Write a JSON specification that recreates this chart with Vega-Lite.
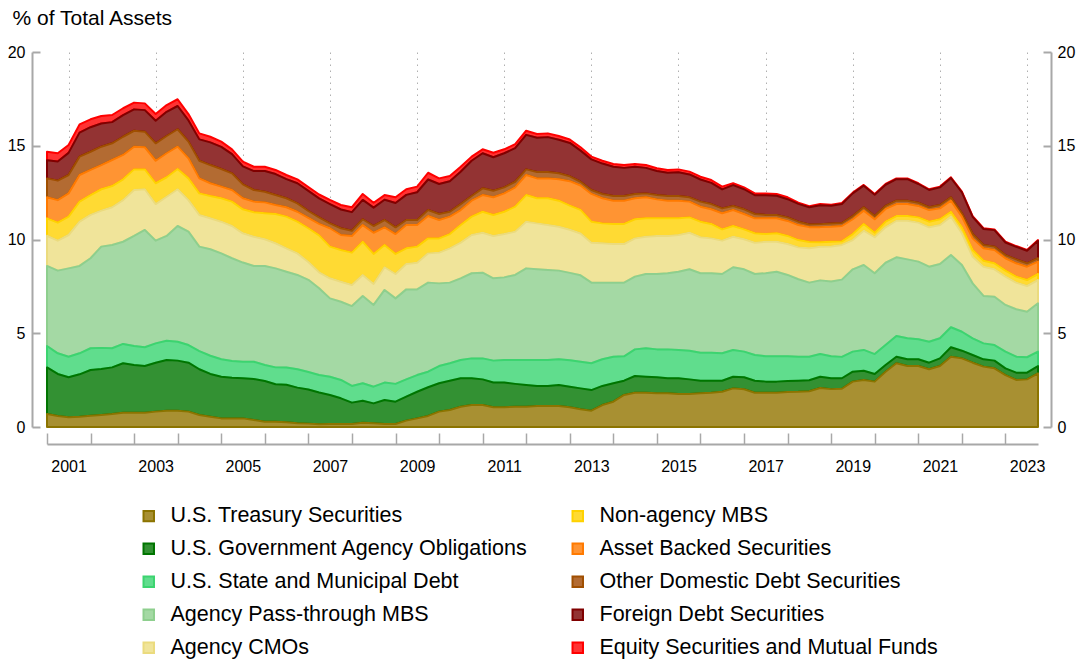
{
  "$schema": "https://vega.github.io/schema/vega-lite/v6.json",
  "width": 991,
  "height": 375,
  "autosize": {"type": "none"},
  "padding": {"left": 47, "top": 52, "right": 46, "bottom": 235},
  "background": "white",
  "config": {
    "font": "Liberation Sans",
    "view": {"stroke": null},
    "axis": {"labelFont": "Liberation Sans", "titleFont": "Liberation Sans", "labelColor": "#000000", "titleColor": "#000000"},
    "legend": {"labelFont": "Liberation Sans"}
  },
  "datasets": {
    "series": [
      {"k": "ust", "name": "U.S. Treasury Securities", "o": 1},
      {"k": "agy", "name": "U.S. Government Agency Obligations", "o": 2},
      {"k": "muni", "name": "U.S. State and Municipal Debt", "o": 3},
      {"k": "pt", "name": "Agency Pass-through MBS", "o": 4},
      {"k": "cmo", "name": "Agency CMOs", "o": 5},
      {"k": "nag", "name": "Non-agency MBS", "o": 6},
      {"k": "abs", "name": "Asset Backed Securities", "o": 7},
      {"k": "oth", "name": "Other Domestic Debt Securities", "o": 8},
      {"k": "frn", "name": "Foreign Debt Securities", "o": 9},
      {"k": "eq", "name": "Equity Securities and Mutual Funds", "o": 10}
    ],
    "q": [
      {"d":"2001-01-01","ust":0.69,"agy":2.49,"muni":1.14,"pt":4.27,"cmo":1.61,"nag":0.93,"abs":1.12,"oth":1.01,"frn":0.97,"eq":0.45},
      {"d":"2001-04-01","ust":0.59,"agy":2.24,"muni":1.10,"pt":4.41,"cmo":1.60,"nag":0.96,"abs":1.20,"oth":1.04,"frn":1.02,"eq":0.44},
      {"d":"2001-07-01","ust":0.52,"agy":2.13,"muni":1.10,"pt":4.71,"cmo":1.78,"nag":0.98,"abs":1.24,"oth":0.98,"frn":1.18,"eq":0.42},
      {"d":"2001-10-01","ust":0.55,"agy":2.26,"muni":1.12,"pt":4.66,"cmo":2.36,"nag":1.07,"abs":1.42,"oth":0.98,"frn":1.28,"eq":0.44},
      {"d":"2002-01-01","ust":0.60,"agy":2.44,"muni":1.16,"pt":4.80,"cmo":2.31,"nag":1.06,"abs":1.34,"oth":0.97,"frn":1.31,"eq":0.42},
      {"d":"2002-04-01","ust":0.64,"agy":2.45,"muni":1.13,"pt":5.40,"cmo":1.92,"nag":1.14,"abs":1.29,"oth":0.98,"frn":1.24,"eq":0.40},
      {"d":"2002-07-01","ust":0.69,"agy":2.49,"muni":1.02,"pt":5.51,"cmo":2.01,"nag":1.13,"abs":1.39,"oth":0.89,"frn":1.13,"eq":0.38},
      {"d":"2002-10-01","ust":0.76,"agy":2.64,"muni":1.03,"pt":5.45,"cmo":2.22,"nag":1.11,"abs":1.30,"oth":0.97,"frn":1.15,"eq":0.37},
      {"d":"2003-01-01","ust":0.76,"agy":2.55,"muni":1.01,"pt":5.87,"cmo":2.45,"nag":1.10,"abs":1.21,"oth":0.85,"frn":1.14,"eq":0.36},
      {"d":"2003-04-01","ust":0.76,"agy":2.49,"muni":1.00,"pt":6.26,"cmo":2.17,"nag":1.06,"abs":1.18,"oth":0.83,"frn":1.15,"eq":0.36},
      {"d":"2003-07-01","ust":0.82,"agy":2.61,"muni":1.03,"pt":5.48,"cmo":1.95,"nag":1.11,"abs":1.20,"oth":0.93,"frn":1.20,"eq":0.36},
      {"d":"2003-10-01","ust":0.87,"agy":2.70,"muni":1.03,"pt":5.59,"cmo":2.09,"nag":1.04,"abs":1.28,"oth":0.92,"frn":1.29,"eq":0.36},
      {"d":"2004-01-01","ust":0.87,"agy":2.67,"muni":1.01,"pt":6.17,"cmo":1.96,"nag":1.08,"abs":1.19,"oth":0.93,"frn":1.24,"eq":0.36},
      {"d":"2004-04-01","ust":0.82,"agy":2.61,"muni":0.94,"pt":6.05,"cmo":1.68,"nag":1.16,"abs":1.07,"oth":0.89,"frn":1.13,"eq":0.34},
      {"d":"2004-07-01","ust":0.64,"agy":2.44,"muni":0.97,"pt":5.57,"cmo":1.69,"nag":1.15,"abs":0.80,"oth":0.94,"frn":1.14,"eq":0.32},
      {"d":"2004-10-01","ust":0.55,"agy":2.28,"muni":0.97,"pt":5.68,"cmo":1.65,"nag":1.19,"abs":0.68,"oth":0.97,"frn":1.21,"eq":0.30},
      {"d":"2005-01-01","ust":0.46,"agy":2.22,"muni":0.93,"pt":5.65,"cmo":1.69,"nag":1.25,"abs":0.62,"oth":0.94,"frn":1.18,"eq":0.28},
      {"d":"2005-04-01","ust":0.46,"agy":2.17,"muni":0.89,"pt":5.48,"cmo":1.72,"nag":1.30,"abs":0.62,"oth":0.89,"frn":1.02,"eq":0.26},
      {"d":"2005-07-01","ust":0.46,"agy":2.14,"muni":0.88,"pt":5.29,"cmo":1.56,"nag":1.28,"abs":0.59,"oth":0.74,"frn":0.96,"eq":0.25},
      {"d":"2005-10-01","ust":0.37,"agy":2.19,"muni":0.92,"pt":5.11,"cmo":1.56,"nag":1.30,"abs":0.57,"oth":0.62,"frn":1.01,"eq":0.23},
      {"d":"2006-01-01","ust":0.28,"agy":2.17,"muni":0.86,"pt":5.28,"cmo":1.42,"nag":1.39,"abs":0.58,"oth":0.57,"frn":1.10,"eq":0.23},
      {"d":"2006-04-01","ust":0.28,"agy":2.00,"muni":0.90,"pt":5.28,"cmo":1.34,"nag":1.56,"abs":0.48,"oth":0.53,"frn":1.12,"eq":0.22},
      {"d":"2006-07-01","ust":0.25,"agy":2.00,"muni":0.92,"pt":5.11,"cmo":1.25,"nag":1.69,"abs":0.50,"oth":0.48,"frn":1.02,"eq":0.22},
      {"d":"2006-10-01","ust":0.20,"agy":1.90,"muni":0.98,"pt":5.03,"cmo":1.15,"nag":1.69,"abs":0.53,"oth":0.45,"frn":1.07,"eq":0.21},
      {"d":"2007-01-01","ust":0.18,"agy":1.82,"muni":0.93,"pt":4.92,"cmo":0.95,"nag":1.80,"abs":0.55,"oth":0.37,"frn":1.07,"eq":0.21},
      {"d":"2007-04-01","ust":0.15,"agy":1.69,"muni":0.93,"pt":4.63,"cmo":0.85,"nag":1.97,"abs":0.61,"oth":0.35,"frn":1.01,"eq":0.21},
      {"d":"2007-07-01","ust":0.16,"agy":1.55,"muni":0.97,"pt":4.18,"cmo":1.07,"nag":1.69,"abs":0.98,"oth":0.26,"frn":1.03,"eq":0.22},
      {"d":"2007-10-01","ust":0.16,"agy":1.37,"muni":0.98,"pt":4.17,"cmo":1.07,"nag":1.69,"abs":0.80,"oth":0.36,"frn":1.00,"eq":0.24},
      {"d":"2008-01-01","ust":0.16,"agy":1.14,"muni":0.89,"pt":4.26,"cmo":1.12,"nag":1.73,"abs":0.89,"oth":0.28,"frn":0.99,"eq":0.26},
      {"d":"2008-04-01","ust":0.23,"agy":1.17,"muni":0.93,"pt":4.66,"cmo":1.12,"nag":1.77,"abs":0.89,"oth":0.31,"frn":1.03,"eq":0.32},
      {"d":"2008-07-01","ust":0.20,"agy":1.06,"muni":0.89,"pt":4.36,"cmo":1.12,"nag":1.60,"abs":1.13,"oth":0.36,"frn":0.98,"eq":0.26},
      {"d":"2008-10-01","ust":0.16,"agy":1.28,"muni":0.93,"pt":4.94,"cmo":1.21,"nag":1.19,"abs":0.94,"oth":0.39,"frn":1.08,"eq":0.25},
      {"d":"2009-01-01","ust":0.16,"agy":1.19,"muni":0.95,"pt":4.56,"cmo":1.30,"nag":1.07,"abs":1.06,"oth":0.36,"frn":1.30,"eq":0.30},
      {"d":"2009-04-01","ust":0.34,"agy":1.28,"muni":0.92,"pt":4.80,"cmo":1.35,"nag":0.84,"abs":1.24,"oth":0.27,"frn":1.34,"eq":0.30},
      {"d":"2009-07-01","ust":0.46,"agy":1.42,"muni":0.89,"pt":4.57,"cmo":1.42,"nag":0.86,"abs":1.15,"oth":0.27,"frn":1.48,"eq":0.30},
      {"d":"2009-10-01","ust":0.59,"agy":1.53,"muni":0.83,"pt":4.75,"cmo":1.56,"nag":0.80,"abs":1.19,"oth":0.32,"frn":1.63,"eq":0.36},
      {"d":"2010-01-01","ust":0.82,"agy":1.51,"muni":0.92,"pt":4.41,"cmo":1.64,"nag":0.76,"abs":0.98,"oth":0.32,"frn":1.60,"eq":0.30},
      {"d":"2010-04-01","ust":0.91,"agy":1.56,"muni":0.93,"pt":4.30,"cmo":1.83,"nag":0.76,"abs":0.93,"oth":0.26,"frn":1.63,"eq":0.28},
      {"d":"2010-07-01","ust":1.08,"agy":1.52,"muni":0.97,"pt":4.36,"cmo":1.90,"nag":0.94,"abs":0.80,"oth":0.32,"frn":1.72,"eq":0.27},
      {"d":"2010-10-01","ust":1.17,"agy":1.43,"muni":1.06,"pt":4.54,"cmo":2.04,"nag":0.98,"abs":0.85,"oth":0.25,"frn":1.88,"eq":0.22},
      {"d":"2011-01-01","ust":1.17,"agy":1.37,"muni":1.12,"pt":4.57,"cmo":2.13,"nag":1.12,"abs":0.89,"oth":0.36,"frn":1.87,"eq":0.21},
      {"d":"2011-04-01","ust":1.05,"agy":1.32,"muni":1.17,"pt":4.39,"cmo":2.26,"nag":1.12,"abs":0.94,"oth":0.35,"frn":1.79,"eq":0.24},
      {"d":"2011-07-01","ust":1.05,"agy":1.32,"muni":1.20,"pt":4.41,"cmo":2.31,"nag":1.19,"abs":0.98,"oth":0.32,"frn":1.82,"eq":0.21},
      {"d":"2011-10-01","ust":1.08,"agy":1.22,"muni":1.27,"pt":4.54,"cmo":2.31,"nag":1.33,"abs":1.03,"oth":0.30,"frn":1.79,"eq":0.22},
      {"d":"2012-01-01","ust":1.08,"agy":1.16,"muni":1.33,"pt":4.89,"cmo":2.49,"nag":1.42,"abs":1.07,"oth":0.30,"frn":1.84,"eq":0.22},
      {"d":"2012-04-01","ust":1.12,"agy":1.07,"muni":1.38,"pt":4.84,"cmo":2.45,"nag":1.34,"abs":1.06,"oth":0.34,"frn":1.83,"eq":0.20},
      {"d":"2012-07-01","ust":1.12,"agy":1.07,"muni":1.38,"pt":4.80,"cmo":2.40,"nag":1.43,"abs":1.06,"oth":0.34,"frn":1.86,"eq":0.20},
      {"d":"2012-10-01","ust":1.12,"agy":1.12,"muni":1.37,"pt":4.73,"cmo":2.34,"nag":1.39,"abs":1.14,"oth":0.32,"frn":1.79,"eq":0.20},
      {"d":"2013-01-01","ust":1.05,"agy":1.10,"muni":1.41,"pt":4.66,"cmo":2.30,"nag":1.29,"abs":1.30,"oth":0.26,"frn":1.78,"eq":0.18},
      {"d":"2013-04-01","ust":0.95,"agy":1.11,"muni":1.42,"pt":4.61,"cmo":2.23,"nag":1.26,"abs":1.30,"oth":0.20,"frn":1.66,"eq":0.18},
      {"d":"2013-07-01","ust":0.87,"agy":1.10,"muni":1.43,"pt":4.30,"cmo":2.13,"nag":1.12,"abs":1.48,"oth":0.21,"frn":1.63,"eq":0.15},
      {"d":"2013-10-01","ust":1.17,"agy":1.02,"muni":1.42,"pt":4.09,"cmo":2.10,"nag":1.06,"abs":1.34,"oth":0.23,"frn":1.62,"eq":0.15},
      {"d":"2014-01-01","ust":1.35,"agy":0.98,"muni":1.42,"pt":3.95,"cmo":2.06,"nag":1.07,"abs":1.24,"oth":0.25,"frn":1.56,"eq":0.15},
      {"d":"2014-04-01","ust":1.71,"agy":0.76,"muni":1.30,"pt":3.93,"cmo":2.06,"nag":1.07,"abs":1.24,"oth":0.25,"frn":1.50,"eq":0.15},
      {"d":"2014-07-01","ust":1.83,"agy":0.89,"muni":1.42,"pt":3.88,"cmo":2.04,"nag":1.02,"abs":1.12,"oth":0.23,"frn":1.45,"eq":0.15},
      {"d":"2014-10-01","ust":1.83,"agy":0.85,"muni":1.52,"pt":3.96,"cmo":1.99,"nag":0.98,"abs":1.12,"oth":0.21,"frn":1.36,"eq":0.15},
      {"d":"2015-01-01","ust":1.80,"agy":0.85,"muni":1.49,"pt":4.02,"cmo":2.03,"nag":0.94,"abs":1.01,"oth":0.23,"frn":1.28,"eq":0.15},
      {"d":"2015-04-01","ust":1.80,"agy":0.80,"muni":1.54,"pt":4.06,"cmo":1.99,"nag":0.94,"abs":0.94,"oth":0.25,"frn":1.24,"eq":0.15},
      {"d":"2015-07-01","ust":1.76,"agy":0.84,"muni":1.51,"pt":4.17,"cmo":1.96,"nag":0.89,"abs":0.94,"oth":0.25,"frn":1.27,"eq":0.15},
      {"d":"2015-10-01","ust":1.76,"agy":0.78,"muni":1.53,"pt":4.34,"cmo":1.95,"nag":0.82,"abs":0.84,"oth":0.23,"frn":1.22,"eq":0.15},
      {"d":"2016-01-01","ust":1.80,"agy":0.67,"muni":1.49,"pt":4.24,"cmo":1.92,"nag":0.83,"abs":0.80,"oth":0.27,"frn":1.18,"eq":0.15},
      {"d":"2016-04-01","ust":1.83,"agy":0.64,"muni":1.49,"pt":4.24,"cmo":1.86,"nag":0.77,"abs":0.78,"oth":0.28,"frn":1.13,"eq":0.15},
      {"d":"2016-07-01","ust":1.88,"agy":0.59,"muni":1.46,"pt":4.23,"cmo":1.78,"nag":0.60,"abs":0.86,"oth":0.26,"frn":1.01,"eq":0.15},
      {"d":"2016-10-01","ust":2.06,"agy":0.62,"muni":1.43,"pt":4.41,"cmo":1.63,"nag":0.57,"abs":0.85,"oth":0.22,"frn":1.11,"eq":0.10},
      {"d":"2017-01-01","ust":2.01,"agy":0.64,"muni":1.37,"pt":4.39,"cmo":1.60,"nag":0.53,"abs":0.82,"oth":0.25,"frn":1.07,"eq":0.10},
      {"d":"2017-04-01","ust":1.83,"agy":0.64,"muni":1.37,"pt":4.32,"cmo":1.67,"nag":0.50,"abs":0.80,"oth":0.23,"frn":1.00,"eq":0.10},
      {"d":"2017-07-01","ust":1.83,"agy":0.59,"muni":1.35,"pt":4.43,"cmo":1.68,"nag":0.41,"abs":0.84,"oth":0.18,"frn":1.05,"eq":0.10},
      {"d":"2017-10-01","ust":1.83,"agy":0.59,"muni":1.35,"pt":4.51,"cmo":1.60,"nag":0.45,"abs":0.80,"oth":0.18,"frn":1.02,"eq":0.10},
      {"d":"2018-01-01","ust":1.87,"agy":0.58,"muni":1.32,"pt":4.34,"cmo":1.65,"nag":0.43,"abs":0.80,"oth":0.19,"frn":0.97,"eq":0.10},
      {"d":"2018-04-01","ust":1.88,"agy":0.59,"muni":1.28,"pt":4.13,"cmo":1.70,"nag":0.39,"abs":0.80,"oth":0.18,"frn":0.95,"eq":0.06},
      {"d":"2018-07-01","ust":1.91,"agy":0.58,"muni":1.26,"pt":3.95,"cmo":1.83,"nag":0.34,"abs":0.79,"oth":0.14,"frn":0.92,"eq":0.06},
      {"d":"2018-10-01","ust":2.08,"agy":0.60,"muni":1.21,"pt":3.93,"cmo":1.79,"nag":0.24,"abs":0.81,"oth":0.16,"frn":1.01,"eq":0.06},
      {"d":"2019-01-01","ust":2.02,"agy":0.58,"muni":1.17,"pt":3.99,"cmo":1.87,"nag":0.25,"abs":0.80,"oth":0.17,"frn":0.95,"eq":0.06},
      {"d":"2019-04-01","ust":2.04,"agy":0.56,"muni":1.14,"pt":4.12,"cmo":1.85,"nag":0.19,"abs":0.82,"oth":0.16,"frn":1.01,"eq":0.06},
      {"d":"2019-07-01","ust":2.42,"agy":0.53,"muni":1.07,"pt":4.39,"cmo":1.56,"nag":0.32,"abs":0.79,"oth":0.17,"frn":1.21,"eq":0.04},
      {"d":"2019-10-01","ust":2.51,"agy":0.49,"muni":1.11,"pt":4.53,"cmo":1.83,"nag":0.36,"abs":0.71,"oth":0.18,"frn":1.15,"eq":0.04},
      {"d":"2020-01-01","ust":2.42,"agy":0.41,"muni":1.06,"pt":4.31,"cmo":1.92,"nag":0.24,"abs":0.72,"oth":0.17,"frn":1.14,"eq":0.04},
      {"d":"2020-04-01","ust":2.95,"agy":0.36,"muni":1.06,"pt":4.39,"cmo":1.89,"nag":0.30,"abs":0.68,"oth":0.16,"frn":1.13,"eq":0.04},
      {"d":"2020-07-01","ust":3.40,"agy":0.35,"muni":1.10,"pt":4.20,"cmo":1.95,"nag":0.25,"abs":0.64,"oth":0.18,"frn":1.15,"eq":0.04},
      {"d":"2020-10-01","ust":3.25,"agy":0.36,"muni":1.12,"pt":4.21,"cmo":2.06,"nag":0.25,"abs":0.64,"oth":0.18,"frn":1.15,"eq":0.04},
      {"d":"2021-01-01","ust":3.25,"agy":0.36,"muni":1.07,"pt":4.14,"cmo":2.08,"nag":0.28,"abs":0.61,"oth":0.17,"frn":1.00,"eq":0.04},
      {"d":"2021-04-01","ust":3.08,"agy":0.35,"muni":1.12,"pt":4.00,"cmo":2.10,"nag":0.30,"abs":0.62,"oth":0.15,"frn":0.92,"eq":0.04},
      {"d":"2021-07-01","ust":3.25,"agy":0.41,"muni":1.07,"pt":3.96,"cmo":2.08,"nag":0.31,"abs":0.58,"oth":0.18,"frn":0.94,"eq":0.04},
      {"d":"2021-10-01","ust":3.75,"agy":0.50,"muni":1.07,"pt":3.85,"cmo":2.05,"nag":0.26,"abs":0.59,"oth":0.18,"frn":1.03,"eq":0.04},
      {"d":"2022-01-01","ust":3.66,"agy":0.41,"muni":1.01,"pt":3.56,"cmo":1.69,"nag":0.32,"abs":0.57,"oth":0.18,"frn":1.11,"eq":0.04},
      {"d":"2022-04-01","ust":3.43,"agy":0.41,"muni":0.89,"pt":2.93,"cmo":1.42,"nag":0.36,"abs":0.62,"oth":0.23,"frn":0.92,"eq":0.04},
      {"d":"2022-07-01","ust":3.22,"agy":0.39,"muni":0.85,"pt":2.53,"cmo":1.56,"nag":0.32,"abs":0.66,"oth":0.18,"frn":0.85,"eq":0.04},
      {"d":"2022-10-01","ust":3.13,"agy":0.41,"muni":0.83,"pt":2.58,"cmo":1.46,"nag":0.32,"abs":0.71,"oth":0.18,"frn":0.88,"eq":0.04},
      {"d":"2023-01-01","ust":2.77,"agy":0.36,"muni":0.89,"pt":2.49,"cmo":1.51,"nag":0.32,"abs":0.66,"oth":0.17,"frn":0.67,"eq":0.04},
      {"d":"2023-04-01","ust":2.51,"agy":0.39,"muni":0.85,"pt":2.53,"cmo":1.42,"nag":0.32,"abs":0.71,"oth":0.21,"frn":0.67,"eq":0.04},
      {"d":"2023-07-01","ust":2.54,"agy":0.36,"muni":0.82,"pt":2.43,"cmo":1.37,"nag":0.32,"abs":0.71,"oth":0.18,"frn":0.67,"eq":0.04},
      {"d":"2023-10-01","ust":2.86,"agy":0.39,"muni":0.77,"pt":2.58,"cmo":1.24,"nag":0.32,"abs":0.66,"oth":0.18,"frn":0.93,"eq":0.04}
    ]
  },
  "layer": [
    {
      "data": {"name": "q"},
      "transform": [
        {"fold": ["eq", "frn", "oth", "abs", "nag", "cmo", "pt", "muni", "agy", "ust"], "as": ["k", "v"]},
        {"lookup": "k", "from": {"data": {"name": "series"}, "key": "k", "fields": ["name", "o"]}}
      ],
      "mark": {"type": "area", "strokeWidth": 2, "strokeJoin": "round"},
      "encoding": {
        "x": {
          "field": "d",
          "type": "temporal",
          "scale": {"domain": [{"year": 2001, "month": 1, "date": 1, "utc": true}, {"year": 2023, "month": 10, "date": 1, "utc": true}], "nice": false},
          "axis": {
            "title": null,
            "values": [
              {"year": 2001, "month": 1, "date": 1, "utc": true}, {"year": 2002, "month": 1, "date": 1, "utc": true},
              {"year": 2003, "month": 1, "date": 1, "utc": true}, {"year": 2004, "month": 1, "date": 1, "utc": true},
              {"year": 2005, "month": 1, "date": 1, "utc": true}, {"year": 2006, "month": 1, "date": 1, "utc": true},
              {"year": 2007, "month": 1, "date": 1, "utc": true}, {"year": 2008, "month": 1, "date": 1, "utc": true},
              {"year": 2009, "month": 1, "date": 1, "utc": true}, {"year": 2010, "month": 1, "date": 1, "utc": true},
              {"year": 2011, "month": 1, "date": 1, "utc": true}, {"year": 2012, "month": 1, "date": 1, "utc": true},
              {"year": 2013, "month": 1, "date": 1, "utc": true}, {"year": 2014, "month": 1, "date": 1, "utc": true},
              {"year": 2015, "month": 1, "date": 1, "utc": true}, {"year": 2016, "month": 1, "date": 1, "utc": true},
              {"year": 2017, "month": 1, "date": 1, "utc": true}, {"year": 2018, "month": 1, "date": 1, "utc": true},
              {"year": 2019, "month": 1, "date": 1, "utc": true}, {"year": 2020, "month": 1, "date": 1, "utc": true},
              {"year": 2021, "month": 1, "date": 1, "utc": true}, {"year": 2022, "month": 1, "date": 1, "utc": true},
              {"year": 2023, "month": 1, "date": 1, "utc": true}, {"year": 2024, "month": 1, "date": 1, "utc": true},
              {"year": 2001, "month": 7, "date": 1, "utc": true}, {"year": 2003, "month": 7, "date": 1, "utc": true},
              {"year": 2005, "month": 7, "date": 1, "utc": true}, {"year": 2007, "month": 7, "date": 1, "utc": true},
              {"year": 2009, "month": 7, "date": 1, "utc": true}, {"year": 2011, "month": 7, "date": 1, "utc": true},
              {"year": 2013, "month": 7, "date": 1, "utc": true}, {"year": 2015, "month": 7, "date": 1, "utc": true},
              {"year": 2017, "month": 7, "date": 1, "utc": true}, {"year": 2019, "month": 7, "date": 1, "utc": true},
              {"year": 2021, "month": 7, "date": 1, "utc": true}, {"year": 2023, "month": 7, "date": 1, "utc": true}
            ],
            "labelExpr": "utcmonth(datum.value) == 6 ? utcFormat(datum.value, '%Y') : ''",
            "offset": 17,
            "domainColor": "#a8a8a8",
            "domainWidth": 2,
            "tickColor": "#a8a8a8",
            "tickWidth": 1.5,
            "tickSize": -11,
            "tickOpacity": {"condition": {"test": "utcmonth(datum.value) == 6", "value": 0}, "value": 1},
            "grid": true,
            "gridColor": "#b0b0b0",
            "gridWidth": 1,
            "gridDash": [1.5, 4.5],
            "gridOpacity": {"condition": {"test": "utcmonth(datum.value) == 6", "value": 1}, "value": 0},
            "labelFontSize": 16,
            "labelPadding": 25,
            "labelOverlap": false,
            "labelFlush": false,
            "labelBound": false
          }
        },
        "y": {
          "field": "v",
          "type": "quantitative",
          "stack": "zero",
          "scale": {"domain": [0, 20], "nice": false},
          "axis": {
            "values": [0, 5, 10, 15, 20],
            "title": "% of Total Assets",
            "titleAngle": 0,
            "titleAlign": "left",
            "titleBaseline": "alphabetic",
            "titleX": -20,
            "titleY": -28,
            "titleFontSize": 21,
            "titleFontWeight": "normal",
            "offset": 15,
            "domainColor": "#a8a8a8",
            "domainWidth": 2,
            "tickColor": "#a8a8a8",
            "tickWidth": 2,
            "tickSize": -8,
            "labelPadding": 15,
            "labelFontSize": 16,
            "grid": false
          }
        },
        "order": {"field": "o", "type": "quantitative"},
        "fill": {
          "field": "name",
          "type": "nominal",
          "scale": {
            "domain": ["U.S. Treasury Securities", "U.S. Government Agency Obligations", "U.S. State and Municipal Debt", "Agency Pass-through MBS", "Agency CMOs", "Non-agency MBS", "Asset Backed Securities", "Other Domestic Debt Securities", "Foreign Debt Securities", "Equity Securities and Mutual Funds"],
            "range": ["#a89032", "#339133", "#60dd8d", "#a4d9a4", "#f0e49a", "#ffda33", "#ff9433", "#b36b32", "#933333", "#ff3333"]
          },
          "legend": {"title": null, "orient": "none", "legendX": 91, "legendY": 453, "columns": 2, "symbolType": "square", "symbolSize": 110, "symbolStrokeWidth": 2, "labelFontSize": 21.5, "labelColor": "#000000", "labelLimit": 1000, "rowPadding": 10, "columnPadding": 39, "labelOffset": 11, "padding": 0}
        },
        "stroke": {
          "field": "name",
          "type": "nominal",
          "scale": {
            "domain": ["U.S. Treasury Securities", "U.S. Government Agency Obligations", "U.S. State and Municipal Debt", "Agency Pass-through MBS", "Agency CMOs", "Non-agency MBS", "Asset Backed Securities", "Other Domestic Debt Securities", "Foreign Debt Securities", "Equity Securities and Mutual Funds"],
            "range": ["#8c7400", "#007500", "#3cd470", "#8ecf8e", "#ebdb7e", "#ffd200", "#ff7a00", "#a04f00", "#800000", "#ff0000"]
          },
          "legend": {"title": null, "orient": "none", "legendX": 91, "legendY": 453, "columns": 2, "symbolType": "square", "symbolSize": 110, "symbolStrokeWidth": 2, "labelFontSize": 21.5, "labelColor": "#000000", "labelLimit": 1000, "rowPadding": 10, "columnPadding": 39, "labelOffset": 11, "padding": 0}
        }
      }
    },
    {
      "data": {"values": [{}]},
      "mark": {"type": "rule", "opacity": 0},
      "encoding": {
        "y": {
          "datum": 0,
          "type": "quantitative",
          "scale": {"domain": [0, 20], "nice": false},
          "axis": {
            "orient": "right",
            "values": [0, 5, 10, 15, 20],
            "title": null,
            "offset": 13,
            "domainColor": "#a8a8a8",
            "domainWidth": 2,
            "tickColor": "#a8a8a8",
            "tickWidth": 2,
            "tickSize": -8,
            "labelPadding": 14,
            "labelFontSize": 16,
            "grid": false
          }
        }
      }
    }
  ],
  "resolve": {"axis": {"y": "independent"}}
}
